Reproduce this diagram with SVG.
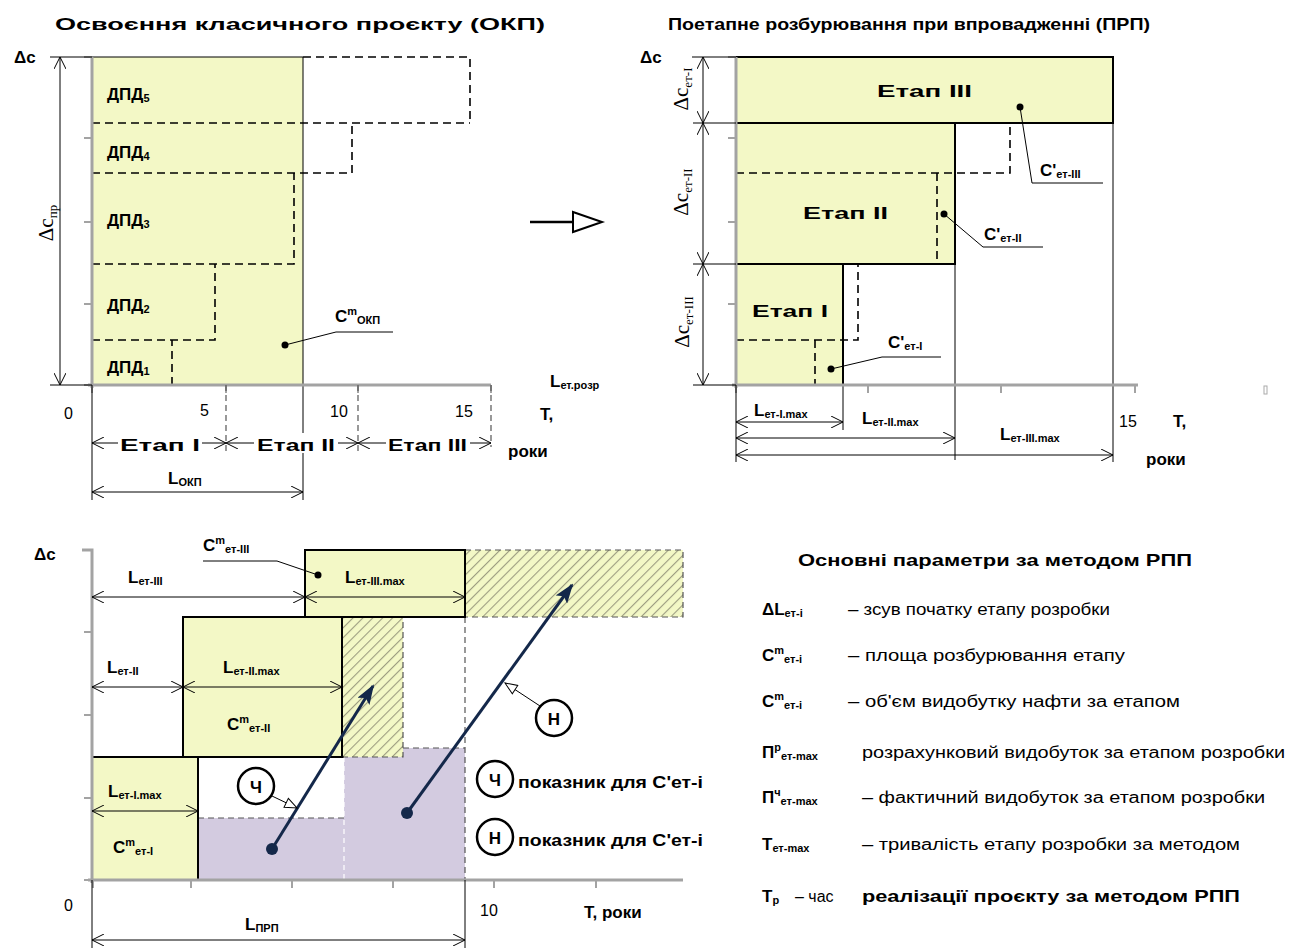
<svg xmlns="http://www.w3.org/2000/svg" width="1300" height="950" viewBox="0 0 1300 950">
  <style>
    .ax{stroke:#a3a3a3;stroke-width:3;fill:none}
    .tk{stroke:#a3a3a3;stroke-width:2;fill:none}
    .ln{stroke:#000;stroke-width:1;fill:none}
    .bx{fill:#f3f8c6;stroke:#000;stroke-width:2}
    .fl{fill:#f3f8c6}
    .pu{fill:#d3cbe0}
    .ds{stroke:#000;stroke-width:1.6;stroke-dasharray:8 5;fill:none}
    .dg{stroke:#555;stroke-width:1.2;stroke-dasharray:6 4;fill:none}
    .dw{stroke:#fff;stroke-width:1.2;stroke-dasharray:5 4;fill:none}
    .dim{stroke:#000;stroke-width:1;fill:none;marker-start:url(#v);marker-end:url(#v)}
    .nv{stroke:#14284a;stroke-width:3;fill:none;marker-end:url(#nh)}
    .ptr{stroke:#000;stroke-width:1;fill:none;marker-end:url(#oh)}
    .b{font-family:"Liberation Sans",Arial,sans-serif;font-weight:bold;font-size:17px;fill:#000}
    .r{font-family:"Liberation Sans",Arial,sans-serif;font-size:16px;fill:#000}
    .s{font-family:"Liberation Serif","Times New Roman",serif;font-size:21px;fill:#000}
    .ss{font-size:13px}
    .sm{font-size:11px}
    .wb{fill:#fff}
    .ring{fill:#fff;stroke:#000;stroke-width:2.5}
  </style>
  <defs>
    <marker id="v" viewBox="0 0 12 12" refX="12" refY="6" markerWidth="12" markerHeight="12" markerUnits="userSpaceOnUse" orient="auto-start-reverse">
      <path d="M0,0 L12,6 L0,12" fill="none" stroke="#000" stroke-width="1"/>
    </marker>
    <marker id="nh" viewBox="0 0 20 14" refX="18" refY="7" markerWidth="20" markerHeight="14" markerUnits="userSpaceOnUse" orient="auto">
      <path d="M0,0 L20,7 L0,14 L4,7 Z" fill="#14284a"/>
    </marker>
    <marker id="oh" viewBox="0 0 14 12" refX="13" refY="6" markerWidth="14" markerHeight="12" markerUnits="userSpaceOnUse" orient="auto">
      <path d="M1,1 L13,6 L1,11 Z" fill="#fff" stroke="#000" stroke-width="1"/>
    </marker>
    <pattern id="hatch" patternUnits="userSpaceOnUse" width="7" height="7" patternTransform="rotate(45)">
      <rect width="7" height="7" fill="#f3f8c6"/>
      <line x1="0" y1="0" x2="0" y2="7" stroke="#9c9c80" stroke-width="2.2"/>
    </pattern>
  </defs>

  <!-- headings -->
  <g id="titles">
    <text class="b" x="55" y="30" font-size="19" textLength="490" lengthAdjust="spacingAndGlyphs">Освоєння класичного проєкту (ОКП)</text>
    <text class="b" x="668" y="30" font-size="19" textLength="482" lengthAdjust="spacingAndGlyphs">Поетапне розбурювання при впровадженні (ПРП)</text>
  </g>

  <!-- ============ upper left: classic project ============ -->
  <g id="okp-chart">
    <rect class="fl" x="92" y="57" width="211" height="328"/>
    <line class="ln" x1="92" y1="57" x2="303" y2="57" stroke-width="2"/>
    <line class="ln" x1="303" y1="57" x2="303" y2="500" stroke-width="2"/>
    <!-- production blocks -->
    <path class="ds" d="M303,57 H470 V123"/>
    <path class="ds" d="M92,123 H470" stroke-width="2.2"/>
    <path class="ds" d="M92,173 H352 V123"/>
    <path class="ds" d="M92,264 H294 V173"/>
    <path class="ds" d="M92,340 H215 V264"/>
    <path class="ds" d="M172,385 V340"/>
    <!-- axes -->
    <line class="ax" x1="92" y1="57" x2="92" y2="388"/>
    <line class="ax" x1="88" y1="385" x2="491" y2="385"/>
    <path class="tk" d="M84,57 H92 M84,138 H92 M84,222 H92 M84,304 H92 M84,385 H92 M92,385 V393 M226,385 V393 M358,385 V393 M491,385 V393"/>
    <line class="ln" x1="92" y1="385" x2="92" y2="500"/>
    <path class="dg" d="M226,385 V452 M358,385 V452 M491,385 V447"/>
    <!-- height dimension -->
    <path class="ln" d="M50,57 H92 M50,385 H92"/>
    <line class="dim" x1="60" y1="57" x2="60" y2="385"/>
    <text class="s" transform="translate(53,223) rotate(-90)" text-anchor="middle">Δc<tspan class="ss" dy="4">пр</tspan></text>
    <text class="b" x="14" y="63">Δc</text>
    <!-- block labels -->
    <text class="b" x="107" y="100">ДПД<tspan class="sm" dy="2">5</tspan></text>
    <text class="b" x="107" y="158">ДПД<tspan class="sm" dy="2">4</tspan></text>
    <text class="b" x="107" y="226">ДПД<tspan class="sm" dy="2">3</tspan></text>
    <text class="b" x="107" y="311">ДПД<tspan class="sm" dy="2">2</tspan></text>
    <text class="b" x="107" y="373">ДПД<tspan class="sm" dy="2">1</tspan></text>
    <!-- callout -->
    <circle cx="285" cy="345" r="3.5"/>
    <path class="ln" d="M285,345 L336,332 H393"/>
    <text class="b" x="335" y="322">C<tspan class="sm" dy="-7">m</tspan><tspan class="sm" dy="9">ОКП</tspan></text>
    <!-- axis values -->
    <text class="r" x="64" y="419">0</text>
    <text class="r" x="200" y="416">5</text>
    <text class="r" x="330" y="417">10</text>
    <text class="r" x="455" y="417">15</text>
    <text class="b" x="550" y="387">L<tspan class="sm" dy="2">ет.розр</tspan></text>
    <text class="b" x="540" y="420">T,</text>
    <text class="b" x="508" y="457">роки</text>
    <!-- stage spans -->
    <line class="dim" x1="92" y1="443" x2="226" y2="443"/>
    <line class="dim" x1="226" y1="443" x2="358" y2="443"/>
    <line class="dim" x1="358" y1="443" x2="491" y2="443"/>
    <rect class="wb" x="118" y="433" width="84" height="20"/>
    <rect class="wb" x="254" y="433" width="84" height="20"/>
    <rect class="wb" x="386" y="433" width="84" height="20"/>
    <text class="b" x="120" y="451" textLength="80" lengthAdjust="spacingAndGlyphs">Етап I</text>
    <text class="b" x="257" y="451" textLength="78" lengthAdjust="spacingAndGlyphs">Етап II</text>
    <text class="b" x="388" y="451" textLength="79" lengthAdjust="spacingAndGlyphs">Етап III</text>
    <text class="b" x="168" y="484">L<tspan class="sm" dy="2">ОКП</tspan></text>
    <line class="dim" x1="92" y1="492" x2="303" y2="492"/>
  </g>

  <!-- transition arrow -->
  <g id="transition">
    <line x1="530" y1="222" x2="574" y2="222" stroke="#000" stroke-width="2.5"/>
    <path d="M573,212 L602,222 L573,232 Z" fill="#fff" stroke="#000" stroke-width="2"/>
  </g>

  <!-- ============ upper right: staged project ============ -->
  <g id="prp-chart">
    <rect class="bx" x="736" y="57" width="377" height="66"/>
    <rect class="bx" x="736" y="123" width="219" height="141"/>
    <rect class="bx" x="736" y="264" width="107" height="121"/>
    <path class="ds" d="M736,173 H1010 V123"/>
    <path class="ds" d="M937,173 V264"/>
    <path class="ds" d="M736,340 H858 V264"/>
    <path class="ds" d="M815,340 V385"/>
    <line class="ln" x1="843" y1="385" x2="843" y2="430"/>
    <line class="ln" x1="955" y1="264" x2="955" y2="460"/>
    <line class="ln" x1="1113" y1="123" x2="1113" y2="462"/>
    <!-- axes -->
    <line class="ax" x1="736" y1="57" x2="736" y2="388"/>
    <line class="ax" x1="732" y1="385" x2="1138" y2="385"/>
    <path class="tk" d="M728,57 H736 M728,138 H736 M728,222 H736 M728,304 H736 M736,385 V393 M868,385 V393 M1001,385 V393 M1135,385 V393"/>
    <line class="ln" x1="736" y1="385" x2="736" y2="462"/>
    <rect x="1264" y="386" width="3" height="8" fill="none" stroke="#aaa" stroke-width="1"/>
    <text class="b" x="640" y="63">Δc</text>
    <!-- stage heights -->
    <path class="ln" d="M692,57 H736 M693,123 H736 M693,264 H736 M693,385 H736"/>
    <line class="dim" x1="703" y1="57" x2="703" y2="123"/>
    <line class="dim" x1="703" y1="123" x2="703" y2="264"/>
    <line class="dim" x1="703" y1="264" x2="703" y2="385"/>
    <text class="s" transform="translate(688,89) rotate(-90)" text-anchor="middle" font-size="19">Δc<tspan class="ss" dy="4">ет-I</tspan></text>
    <text class="s" transform="translate(688,192) rotate(-90)" text-anchor="middle" font-size="19">Δc<tspan class="ss" dy="4">ет-II</tspan></text>
    <text class="s" transform="translate(689,322) rotate(-90)" text-anchor="middle" font-size="19">Δc<tspan class="ss" dy="4">ет-III</tspan></text>
    <!-- stage names -->
    <text class="b" x="877" y="97" textLength="95" lengthAdjust="spacingAndGlyphs">Етап III</text>
    <text class="b" x="803" y="219" textLength="85" lengthAdjust="spacingAndGlyphs">Етап II</text>
    <text class="b" x="752" y="317" textLength="76" lengthAdjust="spacingAndGlyphs">Етап I</text>
    <!-- callouts -->
    <circle cx="1020" cy="107" r="3.5"/>
    <path class="ln" d="M1020,107 L1032,183 H1103"/>
    <text class="b" x="1040" y="176">C'<tspan class="sm" dy="2">ет-III</tspan></text>
    <circle cx="944" cy="214" r="3.5"/>
    <path class="ln" d="M944,214 L983,247 H1043"/>
    <text class="b" x="984" y="240">C'<tspan class="sm" dy="2">ет-II</tspan></text>
    <circle cx="831" cy="369" r="3.5"/>
    <path class="ln" d="M831,369 L882,357 H941"/>
    <text class="b" x="888" y="348">C'<tspan class="sm" dy="2">ет-I</tspan></text>
    <!-- durations -->
    <line class="dim" x1="736" y1="422" x2="843" y2="422"/>
    <line class="dim" x1="736" y1="438" x2="955" y2="438"/>
    <line class="dim" x1="736" y1="455" x2="1113" y2="455"/>
    <text class="b" x="754" y="416">L<tspan class="sm" dy="2">ет-I.max</tspan></text>
    <text class="b" x="862" y="424">L<tspan class="sm" dy="2">ет-II.max</tspan></text>
    <text class="b" x="1000" y="440">L<tspan class="sm" dy="2">ет-III.max</tspan></text>
    <text class="r" x="1119" y="427">15</text>
    <text class="b" x="1173" y="427">T,</text>
    <text class="b" x="1146" y="465">роки</text>
  </g>

  <!-- ============ lower: combined stages ============ -->
  <g id="stage-chart">
    <!-- residual production areas -->
    <rect class="pu" x="198" y="818" width="146" height="62"/>
    <rect class="pu" x="344" y="748" width="121" height="132"/>
    <path class="dg" d="M198,818 H344"/>
    <path class="dw" d="M344,757 V880"/>
    <path class="dg" d="M403,748 H465"/>
    <path class="dg" d="M465,617 V880"/>
    <!-- hatched shift areas -->
    <rect x="465" y="550" width="218" height="67" fill="url(#hatch)"/>
    <path class="dg" d="M465,550 H683 V617 H465"/>
    <rect x="342" y="617" width="61" height="140" fill="url(#hatch)"/>
    <path class="dg" d="M342,757 H403 V617"/>
    <!-- stage blocks -->
    <rect class="bx" x="305" y="550" width="160" height="67"/>
    <rect class="bx" x="183" y="617" width="159" height="140"/>
    <rect class="bx" x="92" y="757" width="106" height="123"/>
    <line class="ln" x1="198" y1="757" x2="344" y2="757" stroke-width="2"/>
    <!-- axes -->
    <path class="ax" d="M82,550 H92 V883"/>
    <line class="ax" x1="88" y1="880" x2="683" y2="880"/>
    <path class="tk" d="M84,632 H92 M84,715 H92 M84,798 H92 M84,880 H92 M93,880 V888 M191,880 V888 M292,880 V888 M393,880 V888 M494,880 V888 M596,880 V888"/>
    <path class="ln" d="M92,880 V948 M465,880 V948"/>
    <text class="b" x="34" y="560">Δc</text>
    <!-- spans -->
    <line class="dim" x1="92" y1="597" x2="305" y2="597"/>
    <line class="dim" x1="305" y1="597" x2="465" y2="597"/>
    <line class="dim" x1="92" y1="687" x2="183" y2="687"/>
    <line class="dim" x1="183" y1="687" x2="342" y2="687"/>
    <line class="dim" x1="92" y1="811" x2="198" y2="811"/>
    <line class="dim" x1="92" y1="940" x2="465" y2="940"/>
    <text class="b" x="128" y="583">L<tspan class="sm" dy="2">ет-III</tspan></text>
    <text class="b" x="345" y="583">L<tspan class="sm" dy="2">ет-III.max</tspan></text>
    <text class="b" x="107" y="673">L<tspan class="sm" dy="2">ет-II</tspan></text>
    <text class="b" x="223" y="673">L<tspan class="sm" dy="2">ет-II.max</tspan></text>
    <text class="b" x="108" y="797">L<tspan class="sm" dy="2">ет-I.max</tspan></text>
    <text class="b" x="245" y="930">L<tspan class="sm" dy="2">ПРП</tspan></text>
    <!-- block callouts -->
    <text class="b" x="203" y="551">C<tspan class="sm" dy="-7">m</tspan><tspan class="sm" dy="9">ет-III</tspan></text>
    <path class="ln" d="M203,561 H277 L318,575"/>
    <circle cx="318" cy="575" r="3.5"/>
    <text class="b" x="227" y="730">C<tspan class="sm" dy="-7">m</tspan><tspan class="sm" dy="9">ет-II</tspan></text>
    <text class="b" x="113" y="853">C<tspan class="sm" dy="-7">m</tspan><tspan class="sm" dy="9">ет-I</tspan></text>
    <!-- axis values -->
    <text class="r" x="64" y="911">0</text>
    <text class="r" x="480" y="916">10</text>
    <text class="b" x="584" y="918">T, роки</text>
  </g>

  <!-- shift vectors -->
  <g id="connectors">
    <line class="nv" x1="272" y1="849" x2="373" y2="686"/>
    <circle cx="272" cy="849" r="6" fill="#14284a"/>
    <line class="nv" x1="407" y1="813" x2="572" y2="585"/>
    <circle cx="407" cy="813" r="6" fill="#14284a"/>
    <line class="ptr" x1="272" y1="796" x2="297" y2="808"/>
    <line class="ptr" x1="540" y1="706" x2="505" y2="683"/>
  </g>

  <g id="marker-ch">
    <circle class="ring" cx="256" cy="786" r="18"/>
    <text class="b" x="256" y="793" text-anchor="middle" font-size="19">Ч</text>
  </g>
  <g id="marker-n">
    <circle class="ring" cx="554" cy="718" r="18"/>
    <text class="b" x="554" y="725" text-anchor="middle" font-size="19">Н</text>
  </g>

  <!-- vector legend -->
  <g id="vector-legend">
    <circle class="ring" cx="495" cy="779" r="18"/>
    <text class="b" x="495" y="786" text-anchor="middle" font-size="19">Ч</text>
    <text class="b" x="518" y="788" font-size="15" textLength="185" lengthAdjust="spacingAndGlyphs">показник для C'ет-і</text>
    <circle class="ring" cx="495" cy="837" r="18"/>
    <text class="b" x="495" y="844" text-anchor="middle" font-size="19">Н</text>
    <text class="b" x="518" y="846" font-size="15" textLength="185" lengthAdjust="spacingAndGlyphs">показник для C'ет-і</text>
  </g>

  <!-- parameter legend -->
  <g id="legend">
    <text class="b" x="798" y="566" textLength="394" lengthAdjust="spacingAndGlyphs">Основні параметри за методом РПП</text>
    <text class="b" x="762" y="615">ΔL<tspan class="sm" dy="2">ет-і</tspan></text>
    <text class="r" x="848" y="615" textLength="262" lengthAdjust="spacingAndGlyphs">– зсув початку етапу розробки</text>
    <text class="b" x="762" y="661">C<tspan class="sm" dy="-7">m</tspan><tspan class="sm" dy="9">ет-і</tspan></text>
    <text class="r" x="848" y="661" textLength="277" lengthAdjust="spacingAndGlyphs">– площа розбурювання етапу</text>
    <text class="b" x="762" y="707">C<tspan class="sm" dy="-7">m</tspan><tspan class="sm" dy="9">ет-і</tspan></text>
    <text class="r" x="848" y="707" textLength="332" lengthAdjust="spacingAndGlyphs">– об'єм видобутку нафти за етапом</text>
    <text class="b" x="762" y="758">П<tspan class="sm" dy="-7">р</tspan><tspan class="sm" dy="9">ет-max</tspan></text>
    <text class="r" x="862" y="758" textLength="423" lengthAdjust="spacingAndGlyphs">розрахунковий видобуток за етапом розробки</text>
    <text class="b" x="762" y="803">П<tspan class="sm" dy="-7">ч</tspan><tspan class="sm" dy="9">ет-max</tspan></text>
    <text class="r" x="862" y="803" textLength="403" lengthAdjust="spacingAndGlyphs">– фактичний видобуток за етапом розробки</text>
    <text class="b" x="762" y="850">Т<tspan class="sm" dy="2">ет-max</tspan></text>
    <text class="r" x="862" y="850" textLength="378" lengthAdjust="spacingAndGlyphs">– тривалість етапу розробки за методом</text>
    <text class="b" x="762" y="902">Т<tspan class="sm" dy="2">р</tspan></text>
    <text class="r" x="795" y="902">– час</text>
    <text class="b" x="862" y="902" textLength="378" lengthAdjust="spacingAndGlyphs">реалізації проєкту за методом РПП</text>
  </g>
</svg>
